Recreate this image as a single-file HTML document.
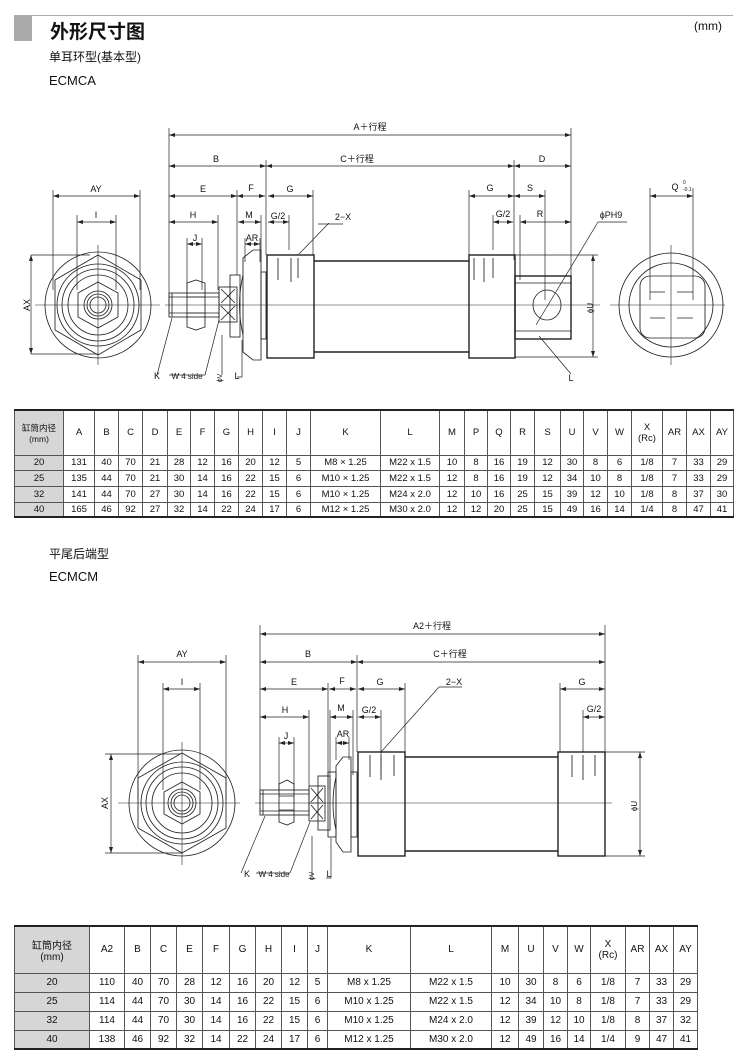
<!DOCTYPE html>
<html><head><meta charset="utf-8"><style>
html,body{margin:0;padding:0;background:#fff;}
body{width:742px;height:1059px;position:relative;overflow:hidden;font-family:"Liberation Sans","Noto Sans CJK SC",sans-serif;color:#111;}
.t{position:absolute;white-space:nowrap;}
table{position:absolute;border-collapse:collapse;table-layout:fixed;font-family:"Liberation Sans","Noto Sans CJK SC",sans-serif;color:#111;}
td{border:1px solid #555;text-align:center;padding:0;overflow:hidden;white-space:nowrap;}
td.g{background:#d6d6d6;}
</style></head><body>
<div style="position:absolute;left:14px;top:15px;width:719px;height:1px;background:#aaa"></div>
<div style="position:absolute;left:14px;top:15px;width:18px;height:26px;background:#aaa"></div>
<div class="t" style="left:50px;top:17px;font-size:19px;font-weight:bold">外形尺寸图</div>
<div class="t" style="left:694px;top:19px;font-size:12px">(mm)</div>
<div class="t" style="left:49px;top:48px;font-size:12px">单耳环型(基本型)</div>
<div class="t" style="left:49px;top:73px;font-size:13px">ECMCA</div>
<div class="t" style="left:49px;top:545px;font-size:12px">平尾后端型</div>
<div class="t" style="left:49px;top:569px;font-size:13px">ECMCM</div>

<svg width="742" height="1059" style="position:absolute;left:0;top:0" font-family="Liberation Sans, Noto Sans CJK SC, sans-serif" font-size="9" fill="none" stroke="#222">
<defs>
<marker id="a" markerWidth="6" markerHeight="4" refX="6" refY="2" orient="auto-start-reverse" markerUnits="userSpaceOnUse"><path d="M0,0L6,2L0,4z" fill="#222" stroke="none"/></marker>
</defs>
<g stroke-width="0.85">
<g marker-start="url(#a)" marker-end="url(#a)" stroke-width="0.7">
<line x1="169" y1="135" x2="571" y2="135"/>
<line x1="169" y1="166" x2="266" y2="166"/>
<line x1="266" y1="166" x2="514" y2="166"/>
<line x1="514" y1="166" x2="571" y2="166"/>
<line x1="169" y1="196" x2="237" y2="196"/>
<line x1="237" y1="196" x2="265" y2="196"/>
<line x1="268" y1="196" x2="313" y2="196"/>
<line x1="469" y1="196" x2="514" y2="196"/>
<line x1="514" y1="196" x2="545" y2="196"/>
<line x1="53" y1="196" x2="140" y2="196"/>
<line x1="77" y1="222" x2="116" y2="222"/>
<line x1="169" y1="222" x2="218" y2="222"/>
<line x1="238" y1="222" x2="261" y2="222"/>
<line x1="268" y1="222" x2="289" y2="222"/>
<line x1="493" y1="222" x2="513" y2="222"/>
<line x1="520" y1="222" x2="571" y2="222"/>
<line x1="245" y1="244" x2="260" y2="244"/>
<line x1="187" y1="244" x2="202" y2="244"/>
<line x1="31" y1="255" x2="31" y2="354"/>
<line x1="593" y1="255" x2="593" y2="357"/>
<line x1="650" y1="196" x2="693" y2="196"/>
</g>
<path stroke-width="0.7" d="M169 128V312M571 128V330M266 160V255M514 160V260M237 190V275M313 190V255M469 190V255M545 190V300M53 190V290M140 190V290M77 215V290M116 215V290M218 215V290M261 215V262M289 215V250M493 215V250M520 215V280M260 238V262M245 238V262M187 238V290M202 238V290M31 255H90M31 354H98M515 255H598M515 357H598M650 188V300M693 188V300"/>
<path d="M35 305H160M98 245V365M165 305H600M610 305H725M671 245V365" stroke-width="0.6"/>
<circle cx="98" cy="305" r="53"/>
<polygon points="98,255 141,280 141,330 98,355 55,330 55,280"/>
<circle cx="98" cy="305" r="41"/><circle cx="98" cy="305" r="36"/><circle cx="98" cy="305" r="30"/>
<polygon points="98,282 118,293 118,317 98,328 78,317 78,293"/>
<circle cx="98" cy="305" r="14"/><circle cx="98" cy="305" r="11"/><circle cx="98" cy="305" r="8"/>
<rect x="169" y="293" width="50" height="24"/>
<path d="M172 293V317M169 297H219M169 313H219"/>
<path d="M187 283L196 280L205 283V327L196 330L187 327Z"/>
<path d="M187 297H205M187 313H205"/>
<rect x="219" y="287" width="18" height="35"/>
<path d="M221 289L235 303M235 289L221 303M221 306L235 320M235 306L221 320M219 305H237"/>
<rect x="230" y="275" width="10" height="62"/>
<path d="M243 258L253 250L261 250V360L253 360L243 352Z"/>
<path d="M243 275Q236 305 243 335"/>
<rect x="261" y="272" width="5" height="67"/>
<rect x="267" y="255" width="47" height="103" stroke-width="1.4"/>
<path d="M314 261H469M314 352H469" stroke-width="1.4"/>
<rect x="469" y="255" width="46" height="103" stroke-width="1.4"/>
<path d="M278 258V280M291 258V282M298 258V278M474 258V280M484 258V282M493 258V278"/>
<rect x="515" y="276" width="56" height="63" stroke-width="1.4"/>
<path d="M515 283H571M515 331H571"/>
<ellipse cx="547" cy="305" rx="14" ry="15"/>
<path stroke-width="0.7" d="M329 223L299 254M318 224H343M598 222L536 325M598 222H627M539 336L571 374M157 375L172 318M169 375L205 375M205 375L219 320M222 375V335M237 377H242V340"/>
<circle cx="671" cy="305" r="52"/>
<circle cx="671" cy="305" r="42"/>
<rect x="640" y="276" width="65" height="62" rx="10"/>
<path d="M650 292H665M677 292H693M650 318H665M677 318H693"/>
</g>
<g fill="#111" stroke="none" font-size="9">
<text x="370" y="130" text-anchor="middle">A＋行程</text>
<text x="216" y="162" text-anchor="middle">B</text>
<text x="357" y="162" text-anchor="middle">C＋行程</text>
<text x="542" y="162" text-anchor="middle">D</text>
<text x="203" y="192" text-anchor="middle">E</text>
<text x="251" y="191" text-anchor="middle">F</text>
<text x="290" y="192" text-anchor="middle">G</text>
<text x="490" y="191" text-anchor="middle">G</text>
<text x="530" y="191" text-anchor="middle">S</text>
<text x="96" y="192" text-anchor="middle">AY</text>
<text x="96" y="218" text-anchor="middle">I</text>
<text x="193" y="218" text-anchor="middle">H</text>
<text x="249" y="218" text-anchor="middle">M</text>
<text x="278" y="219" text-anchor="middle">G/2</text>
<text x="503" y="217" text-anchor="middle">G/2</text>
<text x="540" y="217" text-anchor="middle">R</text>
<text x="343" y="220" text-anchor="middle">2−X</text>
<text x="611" y="218" text-anchor="middle">ϕPH9</text>
<text x="252" y="241" text-anchor="middle">AR</text>
<text x="195" y="241" text-anchor="middle">J</text>
<text x="675" y="190" text-anchor="middle">Q</text>
<text x="683" y="184" font-size="5">0</text><text x="683" y="191" font-size="5">-0.1</text>
<text x="157" y="379" text-anchor="middle">K</text>
<text x="187" y="379" text-anchor="middle" font-size="8">W 4 side</text>
<text x="237" y="379" text-anchor="middle">L</text>
<text x="571" y="381" text-anchor="middle">L</text>
<text transform="translate(30,305) rotate(-90)" text-anchor="middle">AX</text>
<text transform="translate(593,308) rotate(-90)" text-anchor="middle" font-size="8">ϕU</text>
<text transform="translate(222,378) rotate(-90)" text-anchor="middle" font-size="7">ϕV</text>
</g>

<g stroke-width="0.85">
<g marker-start="url(#a)" marker-end="url(#a)" stroke-width="0.7">
<line x1="260" y1="634" x2="605" y2="634"/>
<line x1="260" y1="662" x2="357" y2="662"/>
<line x1="357" y1="662" x2="605" y2="662"/>
<line x1="260" y1="689" x2="328" y2="689"/>
<line x1="329" y1="689" x2="356" y2="689"/>
<line x1="358" y1="689" x2="405" y2="689"/>
<line x1="560" y1="689" x2="605" y2="689"/>
<line x1="138" y1="662" x2="226" y2="662"/>
<line x1="163" y1="689" x2="200" y2="689"/>
<line x1="260" y1="717" x2="309" y2="717"/>
<line x1="330" y1="717" x2="353" y2="717"/>
<line x1="358" y1="717" x2="381" y2="717"/>
<line x1="583" y1="717" x2="605" y2="717"/>
<line x1="336" y1="743" x2="349" y2="743"/>
<line x1="279" y1="743" x2="294" y2="743"/>
<line x1="111" y1="754" x2="111" y2="853"/>
<line x1="640" y1="752" x2="640" y2="856"/>
</g>
<path stroke-width="0.7" d="M260 625V810M605 625V856M357 655V752M328 683V790M405 683V752M560 683V752M138 655V800M226 655V800M163 683V790M200 683V790M309 710V790M330 710V790M353 710V775M381 710V775M583 710V752M336 737V760M349 737V760M279 737V790M294 737V790M105 754H180M105 853H182M605 752H645M605 856H645"/>
<path d="M118 803H240M182 742V865M255 803H612" stroke-width="0.6"/>
<circle cx="182" cy="803" r="53"/>
<polygon points="182,753 226,778 226,828 182,853 138,828 138,778"/>
<circle cx="182" cy="803" r="41"/><circle cx="182" cy="803" r="36"/><circle cx="182" cy="803" r="30"/>
<polygon points="182,782 200,792 200,814 182,824 164,814 164,792"/>
<circle cx="182" cy="803" r="14"/><circle cx="182" cy="803" r="11"/><circle cx="182" cy="803" r="8"/>
<rect x="260" y="790" width="49" height="25"/>
<path d="M263 790V815M260 794H309M260 811H309"/>
<path d="M279 784L287 780L294 784V822L287 825L279 822Z"/>
<path d="M279 796H294M279 810H294"/>
<rect x="309" y="786" width="16" height="35"/>
<path d="M311 788L323 802M323 788L311 802M311 805L323 819M323 805L311 819M309 803H325"/>
<rect x="318" y="776" width="12" height="54"/>
<rect x="328" y="772" width="8" height="65"/>
<path d="M336 766L343 757L351 757V852L343 852L336 842Z"/>
<path d="M336 777Q330 803 336 830"/>
<rect x="351" y="772" width="6" height="65"/>
<rect x="358" y="752" width="47" height="104" stroke-width="1.4"/>
<path d="M405 757H558M405 851H558" stroke-width="1.4"/>
<rect x="558" y="752" width="47" height="104" stroke-width="1.4"/>
<path d="M370 755V777M381 755V780M394 755V776M572 755V777M583 755V780M595 755V776"/>
<path stroke-width="0.7" d="M439 687L381 752M439 687H462M241 873L265 816M256 873H290M290 873L310 822M312 877V836M326 878H331V838"/>
</g>
<g fill="#111" stroke="none" font-size="9">
<text x="432" y="629" text-anchor="middle">A2＋行程</text>
<text x="308" y="657" text-anchor="middle">B</text>
<text x="450" y="657" text-anchor="middle">C＋行程</text>
<text x="294" y="685" text-anchor="middle">E</text>
<text x="342" y="684" text-anchor="middle">F</text>
<text x="380" y="685" text-anchor="middle">G</text>
<text x="582" y="685" text-anchor="middle">G</text>
<text x="182" y="657" text-anchor="middle">AY</text>
<text x="182" y="685" text-anchor="middle">I</text>
<text x="285" y="713" text-anchor="middle">H</text>
<text x="341" y="711" text-anchor="middle">M</text>
<text x="369" y="713" text-anchor="middle">G/2</text>
<text x="594" y="712" text-anchor="middle">G/2</text>
<text x="454" y="685" text-anchor="middle">2−X</text>
<text x="343" y="737" text-anchor="middle">AR</text>
<text x="286" y="739" text-anchor="middle">J</text>
<text x="247" y="877" text-anchor="middle">K</text>
<text x="274" y="877" text-anchor="middle" font-size="8">W 4 side</text>
<text x="329" y="877" text-anchor="middle">L</text>
<text transform="translate(108,803) rotate(-90)" text-anchor="middle">AX</text>
<text transform="translate(637,806) rotate(-90)" text-anchor="middle" font-size="8">ϕU</text>
<text transform="translate(314,876) rotate(-90)" text-anchor="middle" font-size="7">ϕV</text>
</g>
</svg>

<table style="left:14px;top:409px;width:719px;font-size:9.5px;border-top:2px solid #222;border-bottom:2px solid #222">
<colgroup><col style="width:49px"><col style="width:31px"><col style="width:24px"><col style="width:24px"><col style="width:25px"><col style="width:23px"><col style="width:24px"><col style="width:24px"><col style="width:24px"><col style="width:24px"><col style="width:24px"><col style="width:70px"><col style="width:59px"><col style="width:25px"><col style="width:23px"><col style="width:23px"><col style="width:24px"><col style="width:26px"><col style="width:23px"><col style="width:24px"><col style="width:24px"><col style="width:31px"><col style="width:24px"><col style="width:24px"><col style="width:23px"></colgroup>
<tr style="height:45px"><td class="g" style="font-size:8.5px">缸筒内径<br>(mm)</td><td>A</td><td>B</td><td>C</td><td>D</td><td>E</td><td>F</td><td>G</td><td>H</td><td>I</td><td>J</td><td>K</td><td>L</td><td>M</td><td>P</td><td>Q</td><td>R</td><td>S</td><td>U</td><td>V</td><td>W</td><td>X<br>(Rc)</td><td>AR</td><td>AX</td><td>AY</td></tr>
<tr style="height:15px"><td class="g">20</td><td>131</td><td>40</td><td>70</td><td>21</td><td>28</td><td>12</td><td>16</td><td>20</td><td>12</td><td>5</td><td>M8 × 1.25</td><td>M22 x 1.5</td><td>10</td><td>8</td><td>16</td><td>19</td><td>12</td><td>30</td><td>8</td><td>6</td><td>1/8</td><td>7</td><td>33</td><td>29</td></tr>
<tr style="height:16px"><td class="g">25</td><td>135</td><td>44</td><td>70</td><td>21</td><td>30</td><td>14</td><td>16</td><td>22</td><td>15</td><td>6</td><td>M10 × 1.25</td><td>M22 x 1.5</td><td>12</td><td>8</td><td>16</td><td>19</td><td>12</td><td>34</td><td>10</td><td>8</td><td>1/8</td><td>7</td><td>33</td><td>29</td></tr>
<tr style="height:16px"><td class="g">32</td><td>141</td><td>44</td><td>70</td><td>27</td><td>30</td><td>14</td><td>16</td><td>22</td><td>15</td><td>6</td><td>M10 × 1.25</td><td>M24 x 2.0</td><td>12</td><td>10</td><td>16</td><td>25</td><td>15</td><td>39</td><td>12</td><td>10</td><td>1/8</td><td>8</td><td>37</td><td>30</td></tr>
<tr style="height:15px"><td class="g">40</td><td>165</td><td>46</td><td>92</td><td>27</td><td>32</td><td>14</td><td>22</td><td>24</td><td>17</td><td>6</td><td>M12 × 1.25</td><td>M30 x 2.0</td><td>12</td><td>12</td><td>20</td><td>25</td><td>15</td><td>49</td><td>16</td><td>14</td><td>1/4</td><td>8</td><td>47</td><td>41</td></tr>
</table>

<table style="left:14px;top:925px;width:683px;font-size:10px;border-top:2px solid #222;border-bottom:2px solid #222">
<colgroup><col style="width:75px"><col style="width:35px"><col style="width:26px"><col style="width:26px"><col style="width:26px"><col style="width:27px"><col style="width:26px"><col style="width:26px"><col style="width:26px"><col style="width:20px"><col style="width:83px"><col style="width:81px"><col style="width:27px"><col style="width:25px"><col style="width:24px"><col style="width:23px"><col style="width:35px"><col style="width:24px"><col style="width:24px"><col style="width:24px"></colgroup>
<tr style="height:47px"><td class="g">缸筒内径<br>(mm)</td><td>A2</td><td>B</td><td>C</td><td>E</td><td>F</td><td>G</td><td>H</td><td>I</td><td>J</td><td>K</td><td>L</td><td>M</td><td>U</td><td>V</td><td>W</td><td>X<br>(Rc)</td><td>AR</td><td>AX</td><td>AY</td></tr>
<tr style="height:19px"><td class="g">20</td><td>110</td><td>40</td><td>70</td><td>28</td><td>12</td><td>16</td><td>20</td><td>12</td><td>5</td><td>M8 x 1.25</td><td>M22 x 1.5</td><td>10</td><td>30</td><td>8</td><td>6</td><td>1/8</td><td>7</td><td>33</td><td>29</td></tr>
<tr style="height:19px"><td class="g">25</td><td>114</td><td>44</td><td>70</td><td>30</td><td>14</td><td>16</td><td>22</td><td>15</td><td>6</td><td>M10 x 1.25</td><td>M22 x 1.5</td><td>12</td><td>34</td><td>10</td><td>8</td><td>1/8</td><td>7</td><td>33</td><td>29</td></tr>
<tr style="height:19px"><td class="g">32</td><td>114</td><td>44</td><td>70</td><td>30</td><td>14</td><td>16</td><td>22</td><td>15</td><td>6</td><td>M10 x 1.25</td><td>M24 x 2.0</td><td>12</td><td>39</td><td>12</td><td>10</td><td>1/8</td><td>8</td><td>37</td><td>32</td></tr>
<tr style="height:19px"><td class="g">40</td><td>138</td><td>46</td><td>92</td><td>32</td><td>14</td><td>22</td><td>24</td><td>17</td><td>6</td><td>M12 x 1.25</td><td>M30 x 2.0</td><td>12</td><td>49</td><td>16</td><td>14</td><td>1/4</td><td>9</td><td>47</td><td>41</td></tr>
</table>
</body></html>
